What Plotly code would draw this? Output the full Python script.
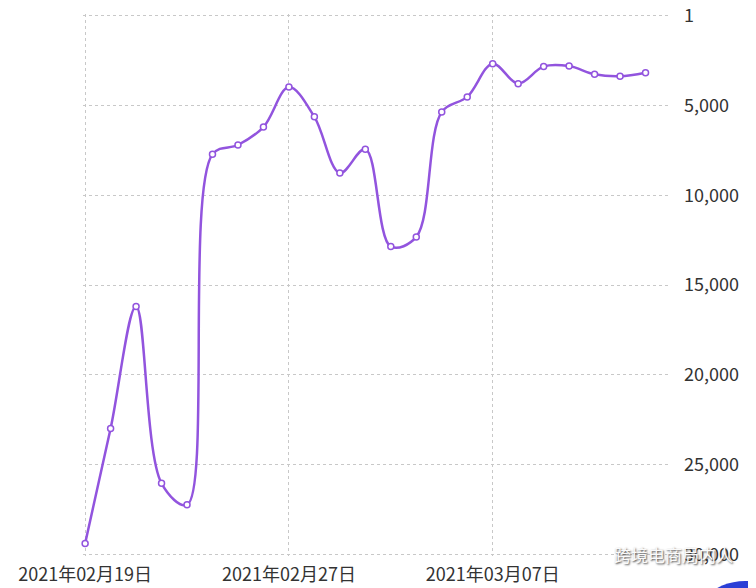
import plotly.graph_objects as go

# Classement quotidien (plus petit = meilleur)
dates = [
    "2021-02-19", "2021-02-20", "2021-02-21", "2021-02-22", "2021-02-23",
    "2021-02-24", "2021-02-25", "2021-02-26", "2021-02-27", "2021-02-28",
    "2021-03-01", "2021-03-02", "2021-03-03", "2021-03-04", "2021-03-05",
    "2021-03-06", "2021-03-07", "2021-03-08", "2021-03-09", "2021-03-10",
    "2021-03-11", "2021-03-12", "2021-03-13",
]
ranks = [
    29400, 23000, 16200, 26050, 27250,
    7720, 7200, 6200, 3970, 5630,
    8760, 7430, 12860, 12320, 5360,
    4520, 2670, 3780, 2820, 2800,
    3260, 3370, 3170,
]

x_tickvals = ["2021-02-19", "2021-02-27", "2021-03-07"]
x_ticktext = ["2021年02月19日", "2021年02月27日", "2021年03月07日"]
y_tickvals = [1, 5000, 10000, 15000, 20000, 25000, 30000]
y_ticktext = ["1", "5,000", "10,000", "15,000", "20,000", "25,000", "30,000"]

LINE = "#9254de"
FONT = "Noto Sans CJK SC"

fig = go.Figure()
fig.add_trace(
    go.Scatter(
        x=dates,
        y=ranks,
        mode="lines+markers",
        line=dict(color=LINE, width=2.5, shape="spline", smoothing=1),
        marker=dict(size=6, color="white", line=dict(color=LINE, width=1.5)),
        cliponaxis=False,
        showlegend=False,
    )
)

grid = dict(showgrid=True, gridcolor="#c8c8c8", griddash="dot", gridwidth=1)

# la page ajoute 8px de marge au body : on compense dans les marges
fig.update_layout(
    width=756,
    height=588,
    margin=dict(l=75, r=93, t=6, b=40),
    paper_bgcolor="white",
    plot_bgcolor="white",
    font=dict(family=FONT, size=18, color="#333333"),
    xaxis=dict(
        range=["2021-02-18 22:00", "2021-03-14"],
        tickmode="array",
        tickvals=x_tickvals,
        ticktext=x_ticktext,
        showline=False,
        zeroline=False,
        automargin=False,
        ticklabelstandoff=6,
        **grid,
    ),
    yaxis=dict(
        range=[30100, -100],
        side="right",
        tickmode="array",
        tickvals=y_tickvals,
        ticktext=y_ticktext,
        showline=False,
        zeroline=False,
        automargin=False,
        ticklabelstandoff=12,
        ticklabeloverflow="allow",
        **grid,
    ),
)

# filigrane en bas à droite
fig.add_annotation(
    x=1.005, y=0.002, xref="paper", yref="paper",
    xanchor="center", yanchor="middle",
    text="跨境电商局内人",
    showarrow=False,
    font=dict(family=FONT, size=17, color="#fafafa", shadow="1px 1px 2px #444444"),
)
fig.add_shape(
    type="circle", xref="paper", yref="paper",
    x0=1.024, x1=1.228, y0=-0.268, y1=-0.046,
    fillcolor="#2b3fd6", line=dict(width=0), layer="above",
)

fig.write_html("out.html")
